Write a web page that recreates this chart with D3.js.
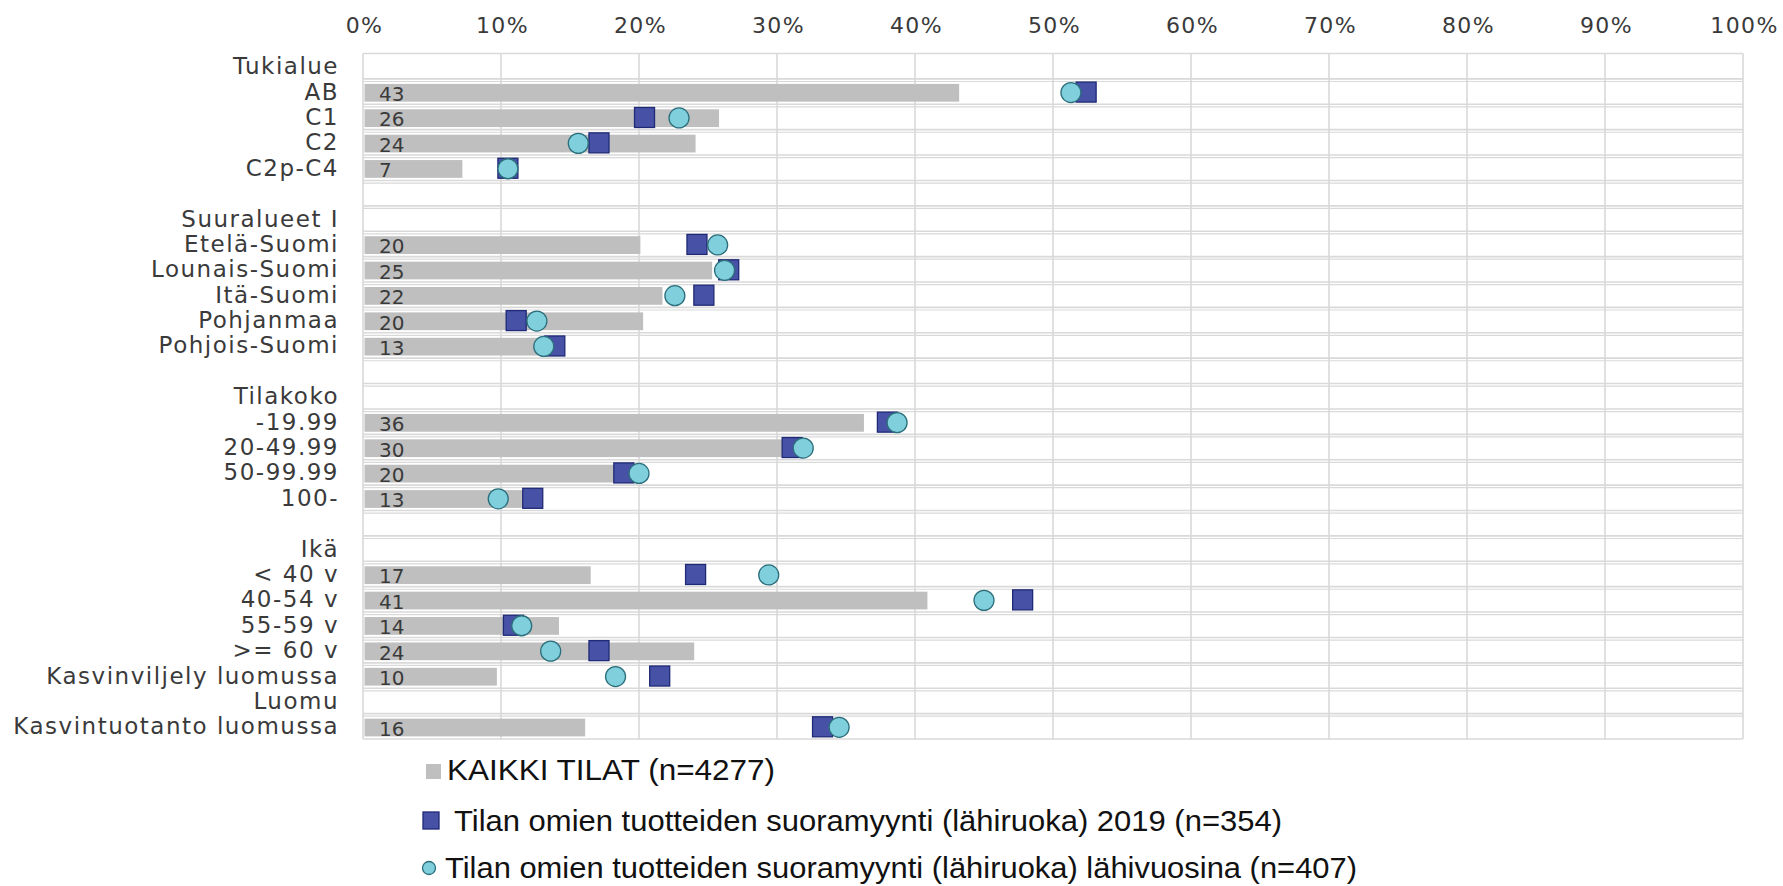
<!DOCTYPE html>
<html>
<head>
<meta charset="utf-8">
<script src="https://cdn.jsdelivr.net/npm/d3@7"></script>
<style>
  body { margin: 0; background: #fff; }
  svg { display: block; }
</style>
</head>
<body>
<div id="chart"></div>
<script>
// rows, top to bottom ("" = empty spacer row)
var categories = ["Tukialue", "AB", "C1", "C2", "C2p-C4", "",
    "Suuralueet I", "Etelä-Suomi", "Lounais-Suomi", "Itä-Suomi", "Pohjanmaa", "Pohjois-Suomi", "",
    "Tilakoko", "-19.99", "20-49.99", "50-99.99", "100-", "",
    "Ikä", "< 40 v", "40-54 v", "55-59 v", ">= 60 v", "Kasvinviljely luomussa", "Luomu", "Kasvintuotanto luomussa"];

// KAIKKI TILAT (n=4277), %
var allFarms = [null, 43.2, 25.8, 24.1, 7.2, null,
    null, 20.1, 25.3, 21.7, 20.3, 13.4, null,
    null, 36.3, 30.4, 19.6, 12.8, null,
    null, 16.5, 40.9, 14.2, 24.0, 9.7, null, 16.1];

// Tilan omien tuotteiden suoramyynti (lähiruoka) 2019 (n=354), %
var directSales2019 = [null, 52.4, 20.4, 17.1, 10.5, null,
    null, 24.2, 26.5, 24.7, 11.1, 13.9, null,
    null, 38.0, 31.1, 18.9, 12.3, null,
    null, 24.1, 47.8, 10.9, 17.1, 21.5, null, 33.3];

// Tilan omien tuotteiden suoramyynti (lähiruoka) lähivuosina (n=407), %
var directSalesNext = [null, 51.3, 22.9, 15.6, 10.5, null,
    null, 25.7, 26.2, 22.6, 12.6, 13.1, null,
    null, 38.7, 31.9, 20.0, 9.8, null,
    null, 29.4, 45.0, 11.5, 13.6, 18.3, null, 34.5];

var tickValues = [0, 10, 20, 30, 40, 50, 60, 70, 80, 90, 100];

var legendLabels = ["KAIKKI TILAT (n=4277)",
    "Tilan omien tuotteiden suoramyynti (lähiruoka) 2019 (n=354)",
    "Tilan omien tuotteiden suoramyynti (lähiruoka) lähivuosina (n=407)"];

var width = 1783, height = 886;
var plot = { left: 363, right: 1743, top: 53.5, bottom: 739 };

var labelFont = "'DejaVu Sans', Verdana, sans-serif";
var gridColor = "#d9d9d9";

var svg = d3.select("#chart")
    .append("svg")
    .attr("width", width)
    .attr("height", height);

var x = d3.scaleLinear()
    .domain([0, 100])
    .range([plot.left, plot.right]);

var y = d3.scaleBand()
    .domain(d3.range(categories.length))
    .range([plot.top, plot.bottom]);

var rows = categories.map(function (c, i) {
    return { i: i, name: c, all: allFarms[i], s2019: directSales2019[i], next: directSalesNext[i] };
});

// grid: horizontal row separators (doubled, like the original)
var grid = svg.append("g");
var bounds = d3.range(1, categories.length);
grid.selectAll("line.h1")
    .data(bounds)
    .enter().append("line")
    .attr("x1", plot.left).attr("x2", plot.right)
    .attr("y1", function (d) { return y(d); })
    .attr("y2", function (d) { return y(d); })
    .attr("stroke", gridColor)
    .attr("stroke-width", 1.6);
grid.selectAll("line.h2")
    .data(bounds)
    .enter().append("line")
    .attr("x1", plot.left).attr("x2", plot.right)
    .attr("y1", function (d) { return y(d) + 2.6; })
    .attr("y2", function (d) { return y(d) + 2.6; })
    .attr("stroke", gridColor)
    .attr("stroke-width", 1.2);

// top & bottom border
grid.selectAll("line.border")
    .data([plot.top, plot.bottom])
    .enter().append("line")
    .attr("x1", plot.left).attr("x2", plot.right)
    .attr("y1", function (d) { return d; })
    .attr("y2", function (d) { return d; })
    .attr("stroke", gridColor)
    .attr("stroke-width", 1.6);

// vertical gridlines
grid.selectAll("line.v")
    .data(tickValues)
    .enter().append("line")
    .attr("x1", function (d) { return x(d); })
    .attr("x2", function (d) { return x(d); })
    .attr("y1", plot.top)
    .attr("y2", plot.bottom)
    .attr("stroke", gridColor)
    .attr("stroke-width", 1.6);

// top axis labels
var xAxis = svg.append("g")
    .attr("transform", "translate(0," + plot.top + ")")
    .call(d3.axisTop(x).tickValues(tickValues).tickFormat(function (d) { return d + "%"; })
        .tickSize(0).tickPadding(21));
xAxis.select(".domain").remove();
xAxis.selectAll("text")
    .attr("dy", "0")
    .attr("dx", "1")
    .style("font-family", labelFont)
    .style("font-size", "22px")
    .style("letter-spacing", "1.4px")
    .attr("fill", "#3a3a3a");

// row labels
svg.selectAll("text.rowlabel")
    .data(rows)
    .enter().append("text")
    .attr("class", "rowlabel")
    .attr("x", plot.left - 24)
    .attr("y", function (d) { return y(d.i) + y.bandwidth() / 2 + 8; })
    .attr("text-anchor", "end")
    .style("font-family", labelFont)
    .style("font-size", "23px")
    .style("letter-spacing", "1.5px")
    .attr("fill", "#3a3a3a")
    .text(function (d) { return d.name; });

// bars
var barH = y.bandwidth() * 0.7;
var barRows = rows.filter(function (d) { return d.all != null; });
svg.selectAll("rect.bar")
    .data(barRows)
    .enter().append("rect")
    .attr("class", "bar")
    .attr("x", x(0) + 1.5)
    .attr("y", function (d) { return y(d.i) + (y.bandwidth() - barH) / 2 + 1.2; })
    .attr("width", function (d) { return x(d.all) - x(0) - 1.5; })
    .attr("height", barH)
    .attr("fill", "#bfbfbf");

// bar value labels
svg.selectAll("text.val")
    .data(barRows)
    .enter().append("text")
    .attr("class", "val")
    .attr("x", x(0) + 16)
    .attr("y", function (d) { return y(d.i) + y.bandwidth() / 2 + 9.5; })
    .style("font-family", labelFont)
    .style("font-size", "20px")
    .attr("fill", "#3a3a3a")
    .text(function (d) { return Math.round(d.all); });

// squares (2019)
var sq = 20;
svg.selectAll("rect.sq")
    .data(rows.filter(function (d) { return d.s2019 != null; }))
    .enter().append("rect")
    .attr("class", "sq")
    .attr("x", function (d) { return x(d.s2019) - sq / 2; })
    .attr("y", function (d) { return y(d.i) + y.bandwidth() / 2 - sq / 2 + 0.5; })
    .attr("width", sq)
    .attr("height", sq)
    .attr("fill", "#4752a6")
    .attr("stroke", "#1f2975")
    .attr("stroke-width", 1.3);

// circles (lähivuosina)
svg.selectAll("circle.next")
    .data(rows.filter(function (d) { return d.next != null; }))
    .enter().append("circle")
    .attr("class", "next")
    .attr("cx", function (d) { return x(d.next); })
    .attr("cy", function (d) { return y(d.i) + y.bandwidth() / 2 + 1; })
    .attr("r", 10)
    .attr("fill", "#7fcfdd")
    .attr("stroke", "#2c6f7c")
    .attr("stroke-width", 1.3);

// legend
var legendFont = "'Liberation Sans', Arial, sans-serif";
var legend = svg.append("g");

legend.append("rect")
    .attr("x", 426).attr("y", 764)
    .attr("width", 15).attr("height", 15)
    .attr("fill", "#bfbfbf");
legend.append("rect")
    .attr("x", 423).attr("y", 812)
    .attr("width", 16).attr("height", 17)
    .attr("fill", "#4752a6")
    .attr("stroke", "#1f2975")
    .attr("stroke-width", 1.3);
legend.append("circle")
    .attr("cx", 429).attr("cy", 868)
    .attr("r", 6.5)
    .attr("fill", "#7fcfdd")
    .attr("stroke", "#2c6f7c")
    .attr("stroke-width", 1.3);

var legendPos = [{ x: 447, y: 780, w: 328 }, { x: 454, y: 831, w: 828 }, { x: 445, y: 878, w: 912 }];
legend.selectAll("text")
    .data(legendLabels)
    .enter().append("text")
    .attr("x", function (d, i) { return legendPos[i].x; })
    .attr("y", function (d, i) { return legendPos[i].y; })
    .attr("textLength", function (d, i) { return legendPos[i].w; })
    .attr("lengthAdjust", "spacingAndGlyphs")
    .style("font-family", legendFont)
    .style("font-size", "30px")
    .attr("fill", "#111")
    .text(function (d) { return d; });
</script>
</body>
</html>
